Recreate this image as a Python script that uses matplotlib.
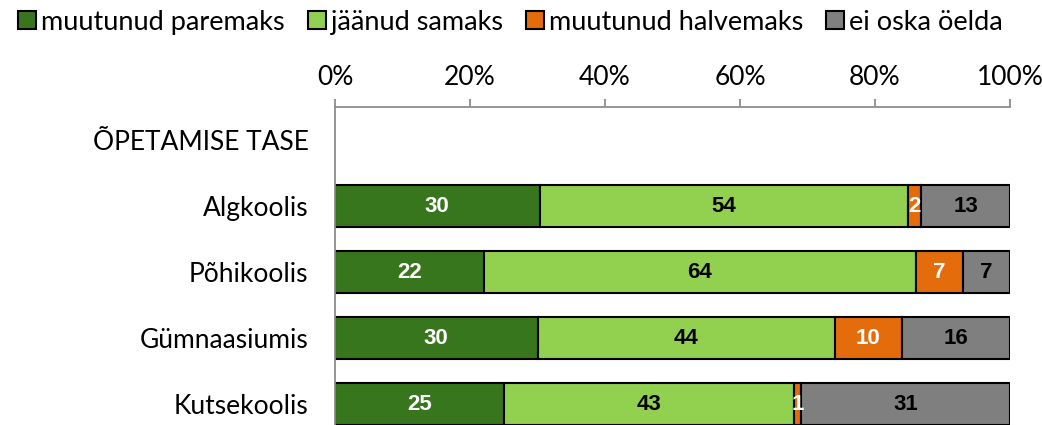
import matplotlib.pyplot as plt
import numpy as np

categories = ['ÕPETAMISE TASE', 'Algkoolis', 'Põhikoolis', 'Gümnaasiumis', 'Kutsekoolis']
series_names = ['muutunud paremaks', 'jäänud samaks', 'muutunud halvemaks', 'ei oska öelda']
paremaks = [np.nan, 30, 22, 30, 25]
samaks = [np.nan, 54, 64, 44, 43]
halvemaks = [np.nan, 2, 7, 10, 1]
ei_oska = [np.nan, 13, 7, 16, 31]
ticks = [0, 20, 40, 60, 80, 100]

colors = ['#38761D', '#92D050', '#E46C0A', '#7F7F7F']
label_colors = ['white', 'black', 'white', 'black']

plt.rcParams['font.family'] = ['Lato', 'DejaVu Sans']

fig = plt.figure(figsize=(10.42, 4.25), dpi=100)
ax = fig.add_axes([335 / 1042, 1 - 437 / 425, 675 / 1042, 330 / 425])

data = np.array([paremaks, samaks, halvemaks, ei_oska], dtype=float)
totals = np.nansum(data, axis=0)
pct = data / np.where(totals == 0, np.nan, totals) * 100
y = np.arange(len(categories))
has = ~np.isnan(data[0])
left = np.zeros(len(categories))
for i in range(4):
    w = np.nan_to_num(pct[i])
    ax.barh(y[has], w[has], left=left[has], height=0.64, color=colors[i], edgecolor='black',
            linewidth=1.5, label=series_names[i])
    for j in range(len(categories)):
        if not np.isnan(data[i, j]):
            ax.text(left[j] + w[j] / 2, y[j], '{:g}'.format(data[i, j]), ha='center', va='center',
                    color=label_colors[i], fontsize=16, fontweight='bold', family='Liberation Sans')
    left = left + w

ax.set_xlim(0, 100)
ax.set_ylim(len(categories) - 0.5, -0.5)
ax.set_yticks(y)
ax.set_yticklabels(categories, fontsize=19)
ax.set_xticks(ticks)
ax.set_xticklabels(['{}%'.format(t) for t in ticks], fontsize=19)
ax.xaxis.tick_top()
ax.tick_params(axis='x', length=6, width=1.3, color='#8C8C8C', pad=6)
ax.tick_params(axis='y', length=0, pad=19)
for s in ['right', 'bottom']:
    ax.spines[s].set_visible(False)
for s in ['top', 'left']:
    ax.spines[s].set_color('#8C8C8C')
    ax.spines[s].set_linewidth(1.3)

fig.legend(loc='upper left', bbox_to_anchor=(0.002, 1.015), ncol=4, frameon=False, fontsize=19.5,
           handlelength=0.65, handleheight=0.65, handletextpad=0.2, columnspacing=0.85,
           borderaxespad=0.2)

plt.savefig('out.png', dpi=100)
